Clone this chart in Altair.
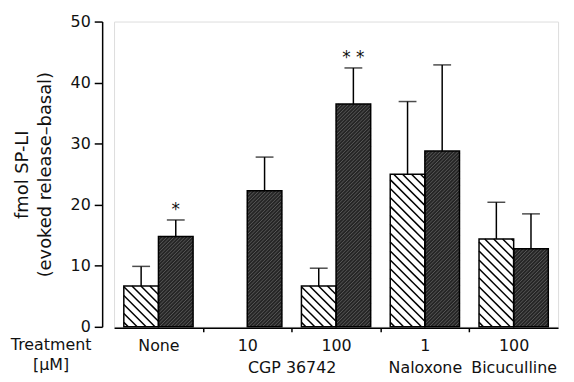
import altair as alt
import pandas as pd

# ---- data ----
groups = ["None", "10", "100", "1", "100"]
drug_names = ["CGP 36742", "Naloxone", "Bicuculline"]
drug_groups = [[1, 2], [3], [4]]          # which treatment columns each drug name spans
hatched_mean = [6.7, None, 6.7, 25.0, 14.4]
hatched_err = [3.2, None, 2.9, 11.9, 6.0]
dark_mean = [14.8, 22.3, 36.5, 28.8, 12.8]
dark_err = [2.7, 5.5, 5.9, 14.1, 5.7]
signif = ["*", "", "* *", "", ""]
y_ticks = [0, 10, 20, 30, 40, 50]

# ---- layout ----
PLOT_W, PLOT_H = 448, 308
X_DOM = [-0.5, len(groups) - 0.5]
Y_DOM = [0, 50]
BAR_W = 0.39
PX = PLOT_W / (X_DOM[1] - X_DOM[0])
PY = PLOT_H / (Y_DOM[1] - Y_DOM[0])
FONT = "DejaVu Sans"

rows = []
for i in range(len(groups)):
    for kind, means, errs, x0 in (("hatched", hatched_mean, hatched_err, i - BAR_W),
                                  ("dark", dark_mean, dark_err, i)):
        m, e = means[i], errs[i]
        if m is None:
            continue
        rows.append(dict(kind=kind, x0=x0, x1=x0 + BAR_W, xc=x0 + BAR_W / 2,
                         zero=0.0, mean=m, upper=m + e,
                         sig=signif[i] if kind == "dark" else ""))
bars = pd.DataFrame(rows)


def hatch(df, spacing, back):
    segs = []
    for _, r in df.iterrows():
        W = (r.x1 - r.x0) * PX
        H = r["mean"] * PY
        if back:
            c = spacing / 2
            while c < W + H:
                ua, ub = max(0, c - H), min(W, c)
                if ub > ua:
                    segs.append(dict(x0=r.x0 + ua / PX, mean=(c - ua) / PY,
                                     x1=r.x0 + ub / PX, zero=(c - ub) / PY))
                c += spacing
        else:
            c = -W + spacing / 2
            while c < H:
                ua, ub = max(0, -c), min(W, H - c)
                if ub > ua:
                    segs.append(dict(x0=r.x0 + ua / PX, mean=(ua + c) / PY,
                                     x1=r.x0 + ub / PX, zero=(ub + c) / PY))
                c += spacing
    return pd.DataFrame(segs)


hatch_back = hatch(bars[bars.kind == "hatched"], 9.0, True)
hatch_fwd = hatch(bars[bars.kind == "dark"], 3.6, False)

# x axis labels (two rows) built from the arrays
tick_vals = []
labels = {}
for i, g in enumerate(groups):
    tick_vals.append(float(i))
    labels[float(i)] = [g]
    if i < len(groups) - 1:
        tick_vals.append(i + 0.5)
        labels[i + 0.5] = [""]
for name, gs in zip(drug_names, drug_groups):
    pos = sum(gs) / len(gs)
    labels[float(pos)] = [labels[float(pos)][0], name]
tick_vals = sorted(tick_vals)


def js_arr(a):
    return "[" + ",".join("'" + s + "'" for s in a) + "]"


expr = "''"
for v in reversed(tick_vals):
    expr = f"(abs(datum.value - {v}) < 0.01) ? {js_arr(labels[v])} : {expr}"

x_scale = alt.Scale(domain=X_DOM, nice=False, zero=False)
y_scale = alt.Scale(domain=Y_DOM, nice=False)

x_axis = alt.Axis(
    values=tick_vals, labelExpr=expr, grid=False, offset=1,
    tickOpacity={"condition": {"test": "abs(datum.value % 1 - 0.5) < 0.01", "value": 1}, "value": 0},
    tickSize=4, tickWidth=1.5, tickColor="black", domainColor="black", domainWidth=1.5,
    labelFontSize=16, labelFont=FONT, labelColor="#111", labelPadding=6,
    labelLineHeight=22, labelOverlap=False, labelFlush=False, labelBound=False,
    title=["Treatment", "[μM]"], titleFont=FONT, titleFontSize=16, titleFontWeight="normal",
    titleColor="#111", titleX=-64, titleY=9, titleAlign="center", titleBaseline="top",
    titleLineHeight=20, titleAnchor="start",
)
y_axis = alt.Axis(
    values=y_ticks, grid=False, offset=12, tickSize=8, tickWidth=1.5, tickColor="black",
    domainColor="black", domainWidth=1.5, labelFontSize=16, labelFont=FONT,
    labelColor="#111", labelPadding=4,
    title=["fmol SP-LI", "(evoked release\u2013basal)"], titleFont=FONT, titleFontSize=18,
    titleFontWeight="normal", titleColor="#111", titlePadding=16, titleLineHeight=23,
)


def X(field):
    return alt.X(field, type="quantitative", scale=x_scale, axis=x_axis)


def Y(field):
    return alt.Y(field, type="quantitative", scale=y_scale, axis=y_axis)


base = alt.Chart(bars)

fills = base.mark_rect(strokeWidth=0).encode(
    x=X("x0"), x2="x1:Q", y=Y("mean"), y2="zero:Q",
    fill=alt.Fill("kind:N", scale=alt.Scale(domain=["hatched", "dark"], range=["white", "#262626"]), legend=None),
)

back_lines = alt.Chart(hatch_back).mark_rule(color="black", strokeWidth=1.5, strokeCap="butt").encode(
    x=X("x0"), x2="x1:Q", y=Y("mean"), y2="zero:Q")
fwd_lines = alt.Chart(hatch_fwd).mark_rule(color="#5e5e5e", strokeWidth=0.9, strokeCap="butt").encode(
    x=X("x0"), x2="x1:Q", y=Y("mean"), y2="zero:Q")

outline = base.mark_rect(fillOpacity=0, stroke="black", strokeWidth=1.5).encode(
    x=X("x0"), x2="x1:Q", y=Y("mean"), y2="zero:Q")

err = base.mark_rule(color="black", strokeWidth=1.5).encode(
    x=X("xc"), y=Y("mean"), y2="upper:Q")
caps = base.mark_tick(orient="horizontal", size=18, thickness=1.5, color="black").encode(
    x=X("xc"), y=Y("upper"))
stars = base.transform_filter("datum.sig != ''").mark_text(
    fontSize=17, font=FONT, dy=-5, baseline="alphabetic", color="#111").encode(
    x=X("xc"), y=Y("upper"), text="sig:N")

chart = alt.layer(fills, back_lines, fwd_lines, outline, err, caps, stars).properties(
    width=PLOT_W, height=PLOT_H,
    autosize=alt.AutoSizeParams(type="none"),
    padding={"left": 107, "top": 12, "right": 8, "bottom": 54},
).configure_view(strokeOpacity=0).configure(font=FONT)

chart.save("out.html", embed_options={"renderer": "svg", "actions": False})
